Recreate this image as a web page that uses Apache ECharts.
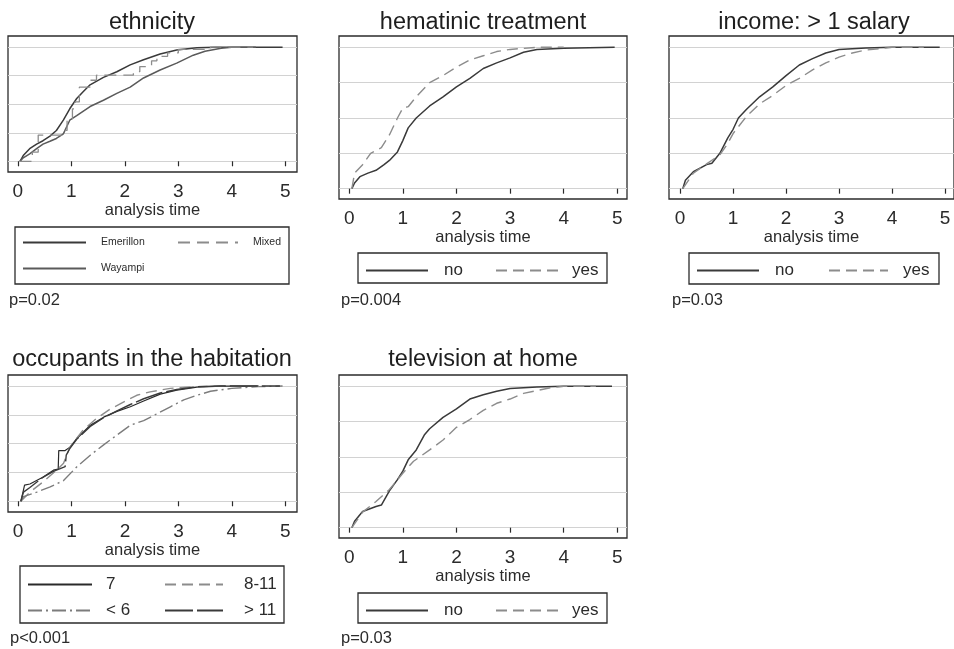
<!DOCTYPE html>
<html>
<head>
<meta charset="utf-8">
<script src="https://cdn.jsdelivr.net/npm/echarts@6/dist/echarts.min.js"></script>
<style>
html,body{margin:0;padding:0;background:#fff;}
#chart{width:954px;height:649px;}
</style>
</head>
<body>
<div id="chart"></div>
<script>
// ---- tick labels / gridlines ----
const xTicks = [0, 1, 2, 3, 4, 5];
const yGrid = [0, 0.25, 0.5, 0.75, 1];
const axisName = 'analysis time';

// ---- panel texts ----
const panelTitles = ['ethnicity', 'hematinic treatment', 'income: > 1 salary', 'occupants in the habitation', 'television at home'];
const pValues = ['p=0.02', 'p=0.004', 'p=0.03', 'p<0.001', 'p=0.03'];

// ---- series values: [analysis time, cumulative failure] ----
// panel 1: ethnicity
const emerillon = [[0.04,0],[0.1,0.05],[0.22,0.11],[0.35,0.15],[0.47,0.18],[0.6,0.22],[0.72,0.27],[0.85,0.36],[0.97,0.46],[1.1,0.55],[1.22,0.61],[1.35,0.67],[1.6,0.735],[1.85,0.785],[2.1,0.845],[2.35,0.89],[2.66,0.94],[2.97,0.975],[3.35,0.995],[3.7,1.0],[4.95,1.0]];
const wayampi = [[0.04,0],[0.1,0.03],[0.22,0.065],[0.35,0.11],[0.47,0.15],[0.6,0.175],[0.72,0.2],[0.85,0.24],[0.97,0.36],[1.1,0.40],[1.35,0.48],[1.6,0.535],[1.85,0.595],[2.1,0.65],[2.35,0.73],[2.66,0.80],[2.97,0.86],[3.28,0.93],[3.5,0.965],[3.8,0.99],[4.0,1.0],[4.45,1.0]];
const mixed = [[0.03,0],[0.27,0.08],[0.38,0.23],[0.87,0.27],[0.92,0.36],[1.02,0.46],[1.07,0.52],[1.15,0.65],[1.35,0.71],[1.47,0.755],[2.16,0.785],[2.28,0.83],[2.5,0.88],[2.6,0.92],[2.8,0.95],[3.0,0.98],[3.6,1.0],[4.4,1.0]];
// panel 2: hematinic treatment
const hemNo = [[0.05,0],[0.1,0.04],[0.2,0.085],[0.35,0.11],[0.5,0.13],[0.65,0.17],[0.75,0.2],[0.9,0.26],[1.0,0.34],[1.1,0.43],[1.25,0.50],[1.5,0.585],[1.75,0.65],[2.0,0.72],[2.25,0.78],[2.5,0.85],[2.75,0.89],[3.0,0.925],[3.25,0.965],[3.5,0.985],[4.0,0.993],[4.95,1.0]];
const hemYes = [[0.05,0],[0.1,0.11],[0.25,0.17],[0.4,0.25],[0.6,0.29],[0.75,0.38],[0.9,0.5],[1.0,0.57],[1.1,0.58],[1.25,0.65],[1.5,0.75],[1.75,0.80],[2.0,0.86],[2.25,0.91],[2.5,0.94],[2.75,0.97],[3.0,0.985],[3.5,1.0],[4.0,1.0]];
// panel 3: income > 1 salary
const incNo = [[0.05,0],[0.1,0.06],[0.25,0.12],[0.5,0.17],[0.6,0.18],[0.75,0.25],[0.9,0.36],[1.0,0.42],[1.1,0.50],[1.25,0.56],[1.5,0.65],[1.75,0.72],[2.0,0.80],[2.25,0.875],[2.5,0.92],[2.75,0.96],[3.0,0.985],[3.5,0.995],[4.0,1.0],[4.9,1.0]];
const incYes = [[0.05,0],[0.25,0.11],[0.5,0.175],[0.75,0.24],[0.9,0.32],[1.0,0.39],[1.25,0.51],[1.5,0.60],[1.75,0.66],[2.0,0.73],[2.25,0.78],[2.5,0.84],[2.75,0.89],[3.0,0.93],[3.25,0.96],[3.5,0.98],[3.75,0.99],[4.0,1.0],[4.6,1.0]];
// panel 4: occupants in the habitation
const occ7 = [[0.05,0],[0.1,0.1],[0.12,0.14],[0.22,0.15],[0.47,0.21],[0.66,0.27],[0.75,0.28],[0.76,0.44],[0.88,0.44],[0.97,0.47],[1.1,0.545],[1.35,0.66],[1.6,0.73],[1.85,0.78],[2.1,0.82],[2.35,0.87],[2.66,0.93],[2.97,0.965],[3.35,0.99],[3.8,1.0],[4.5,1.0]];
const occ8to11 = [[0.05,0],[0.22,0.08],[0.47,0.17],[0.72,0.27],[0.85,0.33],[0.97,0.47],[1.1,0.55],[1.22,0.62],[1.47,0.72],[1.72,0.80],[1.97,0.86],[2.22,0.92],[2.47,0.95],[2.85,0.98],[3.3,0.995],[3.8,1.0],[4.6,1.0]];
const occLt6 = [[0.05,0],[0.1,0.04],[0.35,0.08],[0.6,0.125],[0.85,0.18],[1.1,0.30],[1.35,0.40],[1.6,0.49],[1.85,0.575],[2.1,0.66],[2.35,0.70],[2.6,0.76],[2.85,0.82],[3.1,0.88],[3.35,0.92],[3.6,0.955],[4.0,0.98],[4.5,0.995],[4.95,1.0]];
const occGt11 = [[0.05,0],[0.1,0.08],[0.22,0.12],[0.47,0.21],[0.66,0.26],[0.88,0.30],[0.9,0.40],[0.97,0.46],[1.1,0.54],[1.35,0.65],[1.6,0.725],[1.85,0.785],[2.1,0.84],[2.35,0.89],[2.66,0.94],[2.97,0.97],[3.35,0.995],[3.8,1.0],[4.9,1.0]];
// panel 5: television at home
const tvNo = [[0.05,0],[0.1,0.045],[0.25,0.115],[0.5,0.15],[0.6,0.16],[0.75,0.26],[0.9,0.34],[1.0,0.40],[1.1,0.48],[1.25,0.55],[1.4,0.655],[1.5,0.70],[1.75,0.78],[2.0,0.84],[2.25,0.91],[2.5,0.94],[2.75,0.965],[3.0,0.985],[3.5,0.995],[4.0,1.0],[4.9,1.0]];
const tvYes = [[0.05,0],[0.25,0.11],[0.5,0.185],[0.75,0.27],[1.0,0.385],[1.2,0.47],[1.5,0.55],[1.75,0.62],[2.0,0.71],[2.25,0.765],[2.5,0.83],[2.75,0.88],[3.0,0.91],[3.25,0.95],[3.5,0.97],[3.75,0.99],[4.0,1.0],[4.6,1.0]];

// ---- layout & styles ----
const FONT = "'Liberation Sans', Arial, Helvetica, sans-serif";
const INK = '#2b2b2b';
const panels = [
  {left: 8,   top: 36,  width: 289, height: 136, xMin: -0.185, xMax: 5.22, yMin: -0.094, yMax: 1.098, titleX: 152, titleY: 11,  pX: 9,   pY: 292},
  {left: 339, top: 36,  width: 288, height: 163, xMin: -0.19,  xMax: 5.18, yMin: -0.073, yMax: 1.08,  titleX: 483, titleY: 11,  pX: 341, pY: 292},
  {left: 669, top: 36,  width: 288, height: 163, xMin: -0.21,  xMax: 5.17, yMin: -0.073, yMax: 1.08,  titleX: 814, titleY: 11,  pX: 672, pY: 292},
  {left: 8,   top: 375, width: 289, height: 137, xMin: -0.19,  xMax: 5.22, yMin: -0.093, yMax: 1.096, titleX: 152, titleY: 348, pX: 10,  pY: 630},
  {left: 339, top: 375, width: 288, height: 163, xMin: -0.19,  xMax: 5.18, yMin: -0.073, yMax: 1.08,  titleX: 483, titleY: 348, pX: 341, pY: 630}
];

const DARK = '#3a3a3a', MID = '#5a5a5a', LIGHT = '#8c8c8c';
const seriesDefs = [
  {name: 'Emerillon', panel: 0, data: emerillon, color: DARK,  width: 1.5, type: 'solid'},
  {name: 'Wayampi',   panel: 0, data: wayampi,   color: MID,   width: 1.5, type: 'solid'},
  {name: 'Mixed',     panel: 0, data: mixed,     color: LIGHT, width: 1.3, type: [12, 7], step: 'end'},
  {name: 'no',        panel: 1, data: hemNo,     color: DARK,  width: 1.5, type: 'solid'},
  {name: 'yes',       panel: 1, data: hemYes,    color: LIGHT, width: 1.4, type: [11, 6]},
  {name: 'no',        panel: 2, data: incNo,     color: DARK,  width: 1.5, type: 'solid'},
  {name: 'yes',       panel: 2, data: incYes,    color: LIGHT, width: 1.4, type: [11, 6]},
  {name: '7',         panel: 3, data: occ7,      color: '#2a2a2a', width: 1.2, type: 'solid'},
  {name: '8-11',      panel: 3, data: occ8to11,  color: LIGHT, width: 1.4, type: [11, 6]},
  {name: '< 6',       panel: 3, data: occLt6,    color: '#7c7c7c', width: 1.4, type: [14, 4, 2, 4]},
  {name: '> 11',      panel: 3, data: occGt11,   color: DARK,  width: 1.4, type: [28, 4]},
  {name: 'no',        panel: 4, data: tvNo,      color: DARK,  width: 1.5, type: 'solid'},
  {name: 'yes',       panel: 4, data: tvYes,     color: LIGHT, width: 1.4, type: [11, 6]}
];

// legend entries: key start x, row centre y, key width, gap to label, font size
const legendItems = [
  {name: 'Emerillon', x: 22,  y: 243, w: 63, pad: 10, fs: 10.5},
  {name: 'Mixed',     x: 177, y: 243, w: 60, pad: 10, fs: 10.5},
  {name: 'Wayampi',   x: 22,  y: 269, w: 63, pad: 10, fs: 10.5},
  {name: 'no',        x: 365, y: 268, w: 62, pad: 11, fs: 17},
  {name: 'yes',       x: 495, y: 268, w: 62, pad: 9,  fs: 17},
  {name: 'no',        x: 696, y: 268, w: 62, pad: 11, fs: 17},
  {name: 'yes',       x: 828, y: 268, w: 59, pad: 10, fs: 17},
  {name: '7',         x: 27,  y: 582, w: 64, pad: 9,  fs: 17},
  {name: '8-11',      x: 164, y: 582, w: 58, pad: 16, fs: 17},
  {name: '< 6',       x: 27,  y: 608, w: 64, pad: 9,  fs: 17},
  {name: '> 11',      x: 164, y: 608, w: 58, pad: 16, fs: 17},
  {name: 'no',        x: 365, y: 608, w: 62, pad: 11, fs: 17},
  {name: 'yes',       x: 495, y: 608, w: 62, pad: 9,  fs: 17}
];
const legendFrames = [
  {x: 15,  y: 227, w: 274, h: 57},
  {x: 358, y: 253, w: 249, h: 30},
  {x: 689, y: 253, w: 250, h: 31},
  {x: 20,  y: 566, w: 264, h: 57},
  {x: 358, y: 593, w: 249, h: 30}
];

const grid = panels.map(p => ({
  left: p.left, top: p.top, width: p.width, height: p.height,
  show: true, borderColor: INK, borderWidth: 1.3, backgroundColor: '#fff'
}));
const xAxis = panels.map((p, i) => ({
  type: 'value', gridIndex: i, min: p.xMin, max: p.xMax,
  name: axisName, nameLocation: 'middle', nameGap: 28,
  nameTextStyle: {fontFamily: FONT, fontSize: 16.5, color: INK},
  axisLine: {show: false},
  axisTick: {show: true, customValues: xTicks, length: 5, lineStyle: {color: INK, width: 1.2}},
  axisLabel: {show: true, customValues: xTicks, margin: 10, fontFamily: FONT, fontSize: 19, color: INK},
  splitLine: {show: false}
}));
const yAxis = panels.map((p, i) => ({
  type: 'value', gridIndex: i, min: p.yMin, max: p.yMax,
  axisLine: {show: false},
  axisTick: {show: false, customValues: yGrid},
  axisLabel: {show: false, customValues: yGrid},
  splitLine: {show: true, lineStyle: {color: '#d2d2d2', width: 1.2}}
}));
const series = seriesDefs.map(s => ({
  type: 'line', name: s.name, xAxisIndex: s.panel, yAxisIndex: s.panel,
  data: s.data, step: s.step || false, symbol: 'none', showSymbol: false,
  lineStyle: {color: s.color, width: s.width, type: s.type},
  itemStyle: {color: s.color},
  emphasis: {disabled: true}, silent: true, animation: false
}));
const title = [];
panels.forEach((p, i) => {
  title.push({text: panelTitles[i], left: p.titleX, top: p.titleY, textAlign: 'center', padding: 0,
    textStyle: {fontFamily: FONT, fontSize: 23.5, fontWeight: 'normal', color: '#1e1e1e'}});
  title.push({text: pValues[i], left: p.pX, top: p.pY, padding: 0,
    textStyle: {fontFamily: FONT, fontSize: 16.5, fontWeight: 'normal', color: INK}});
});
const legend = legendItems.map(l => ({
  data: [l.name], left: l.x, top: l.y - 6, padding: 0, orient: 'horizontal',
  itemWidth: l.w, itemHeight: 12, selectedMode: false,
  itemStyle: {opacity: 0, borderWidth: 0},
  textStyle: {fontFamily: FONT, fontSize: l.fs, color: INK, padding: [0, 0, 0, l.pad]}
}));
const graphic = legendFrames.map(f => ({
  type: 'rect', shape: {x: f.x, y: f.y, width: f.w, height: f.h},
  style: {fill: 'none', stroke: INK, lineWidth: 1.3}, silent: true
}));

const chart = echarts.init(document.getElementById('chart'), null, {renderer: 'canvas'});
chart.setOption({
  animation: false, backgroundColor: '#ffffff',
  title, grid, xAxis, yAxis, series, legend, graphic
});
</script>
</body>
</html>
